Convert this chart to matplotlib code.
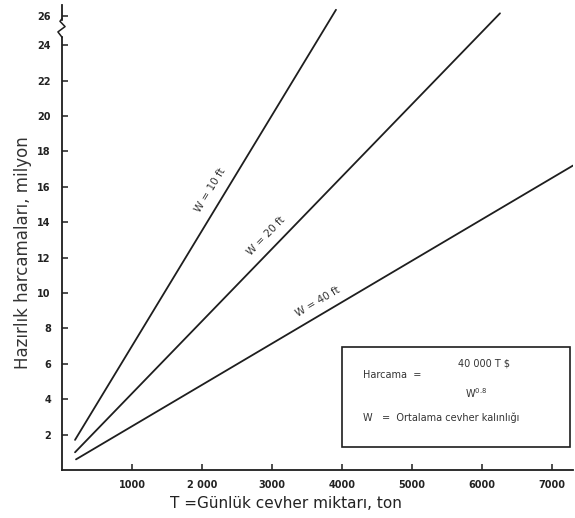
import matplotlib.pyplot as plt
import numpy as np
from matplotlib.patches import Rectangle

# values (T in tons/day, cost in million)
widths = ['W = 10 ft', 'W = 20 ft', 'W = 40 ft']
t_start = [186, 186, 200]
t_end = [3914, 6257, 7300]
cost_start = [1.7, 1.0, 0.6]
cost_end = [26.0, 25.8, 17.2]
label_pos = [(2114, 15.8), (2914, 13.2), (3657, 9.5)]

xticks = [1000, 2000, 3000, 4000, 5000, 6000, 7000]
xticklabels = ['1000', '2 000', '3000', '4000', '5000', '6000', '7000']
yticks = [2, 4, 6, 8, 10, 12, 14, 16, 18, 20, 22, 24, 25.65]
yticklabels = ['2', '4', '6', '8', '10', '12', '14', '16', '18', '20', '22', '24', '26']

fig = plt.figure(figsize=(5.75, 5.18), dpi=100)
ax = fig.add_axes([62 / 575, 48 / 518, 511 / 575, 465 / 518])
ax.set_xlim(0, 7300)
ax.set_ylim(0, 26.27)

ink = '#1e1e1e'
for i in range(3):
    ax.plot([t_start[i], t_end[i]], [cost_start[i], cost_end[i]], color=ink, lw=1.3,
            solid_capstyle='round')

fig.canvas.draw()
for i in range(3):
    p0 = ax.transData.transform((t_start[i], cost_start[i]))
    p1 = ax.transData.transform((t_end[i], cost_end[i]))
    ang = np.degrees(np.arctan2(p1[1] - p0[1], p1[0] - p0[0]))
    ax.text(label_pos[i][0], label_pos[i][1], widths[i], rotation=ang,
            ha='center', va='center', fontsize=7.5, color='#333333',
            rotation_mode='anchor')

for s in ['top', 'right']:
    ax.spines[s].set_visible(False)
for s in ['left', 'bottom']:
    ax.spines[s].set_linewidth(1.3)
    ax.spines[s].set_color(ink)

ax.set_xticks(xticks)
ax.set_xticklabels(xticklabels, fontsize=7, fontweight='bold', color='#222222')
ax.set_yticks(yticks)
ax.set_yticklabels(yticklabels, fontsize=7, fontweight='bold', color='#222222')
ax.tick_params(axis='both', direction='in', length=4, width=1.1, color=ink)
ax.tick_params(axis='x', pad=7)
ax.tick_params(axis='y', pad=8)

# axis break on the y axis between 24 and 26
tr = ax.get_yaxis_transform()
ax.add_patch(Rectangle((-0.004, 24.55), 0.008, 0.8, transform=tr, color='white',
                       clip_on=False, zorder=3))
ax.plot([0.0, -0.008, 0.006, -0.004, 0.0], [24.45, 24.75, 25.05, 25.35, 25.5],
        transform=tr, color=ink, lw=1.1, clip_on=False, zorder=4)

ax.set_ylabel('Hazırlık harcamaları, milyon', fontsize=12, color='#333333')
ax.yaxis.set_label_coords(-30 / 511, 217 / 465)
ax.set_xlabel('T =Günlük cevher miktarı, ton', fontsize=11, color='#222222')
ax.xaxis.set_label_coords(224 / 511, -26 / 465)

# formula box
ax.add_patch(Rectangle((280 / 511, 23 / 465), 228 / 511, 100 / 465, transform=ax.transAxes,
                       fill=False, edgecolor=ink, lw=1.2))
box_kw = dict(transform=ax.transAxes, fontsize=7, color='#333333', va='center')
ax.text(301 / 511, 95 / 465, 'Harcama  =', **box_kw)
ax.text(396 / 511, 107 / 465, '40 000 T $', **box_kw)
ax.text(403 / 511, 77 / 465, 'W$^{0.8}$', **box_kw)
ax.text(301 / 511, 52 / 465, 'W   =  Ortalama cevher kalınlığı', **box_kw)

fig.savefig('out.png', dpi=100)
